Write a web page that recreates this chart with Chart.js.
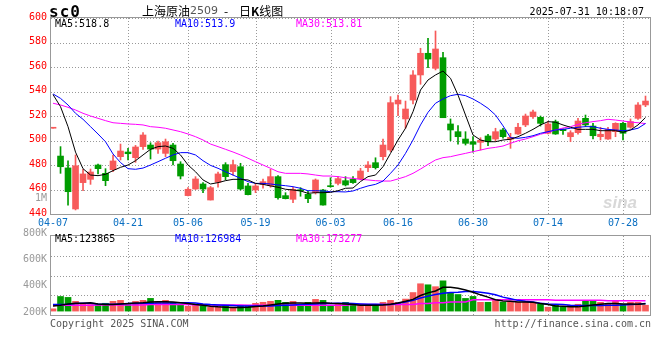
<!DOCTYPE html>
<html lang="zh-CN">
<head>
    <meta charset="UTF-8">
    <title>上海原油2509 日K线图</title>
    <!-- Chart.js -->
    <script src="https://cdn.jsdelivr.net/npm/chart.js@4.4.1/dist/chart.umd.min.js"></script>
    <style>
        body { margin: 0; background: #fff; }
        #wrap { position: relative; width: 660px; height: 360px; overflow: hidden;
                font-family: "DejaVu Sans Mono", monospace; font-size: 10px; }
        #kChart { position: absolute; left: 0; top: 0; }
        #vChart { position: absolute; left: 0; top: 226px; }
        .t { position: absolute; white-space: nowrap; line-height: 12px; }
        .cn { font-family: "Noto Sans CJK SC"; font-size: 12px; line-height: 16px; top: 3px; }
    </style>
</head>
<body>
<div id="wrap">
    <canvas id="kChart" width="660" height="232"></canvas>
    <canvas id="vChart" width="660" height="100"></canvas>

    <div class="t" style="left:49px;top:4px;font-size:16px;line-height:16px;font-weight:bold;letter-spacing:1px;">sc0</div>
    <div class="t cn" style="left:142px;">上海原油</div>
    <div class="t" style="left:190px;top:5px;font-family:'DejaVu Sans';font-size:11px;color:#555;">2509</div>
    <div class="t cn" style="left:224px;">-</div>
    <div class="t cn" style="left:239px;">日<b>K</b>线图</div>
    <div class="t" style="right:16px;top:6px;">2025-07-31 10:18:07</div>

    <div class="t" id="kMa5" style="left:55px;top:18px;color:#000;"></div>
    <div class="t" id="kMa10" style="left:175px;top:18px;color:#0000ff;"></div>
    <div class="t" id="kMa30" style="left:296px;top:18px;color:#ff00ff;"></div>
    <div class="t" style="right:613px;top:192px;color:#999;">1M</div>
    <div class="t" style="left:603px;top:194px;font-family:'Liberation Sans';font-size:17px;line-height:18px;font-weight:bold;font-style:italic;color:#d8d8d8;">sina</div>

    <div class="t" id="vMa5" style="left:55px;top:233px;color:#000;"></div>
    <div class="t" id="vMa10" style="left:175px;top:233px;color:#0000ff;"></div>
    <div class="t" id="vMa30" style="left:296px;top:233px;color:#ff00ff;"></div>

    <div class="t" style="left:50px;top:318px;color:#555;">Copyright 2025 SINA.COM</div>
    <div class="t" style="right:9px;top:318px;color:#555;">http://finance.sina.com.cn</div>
</div>

<script>
// trading days shown on the chart
const days = [
    '04-07','04-08','04-09','04-10','04-11','04-14','04-15','04-16','04-17','04-18',
    '04-21','04-22','04-23','04-24','04-25','04-28','04-29','04-30',
    '05-06','05-07','05-08','05-09','05-12','05-13','05-14','05-15','05-16',
    '05-19','05-20','05-21','05-22','05-23','05-26','05-27','05-28','05-29','05-30',
    '06-03','06-04','06-05','06-06','06-09','06-10','06-11','06-12','06-13',
    '06-16','06-17','06-18','06-19','06-20','06-23','06-24','06-25','06-26','06-27','06-30',
    '07-01','07-02','07-03','07-04','07-07','07-08','07-09','07-10','07-11',
    '07-14','07-15','07-16','07-17','07-18','07-21','07-22','07-23','07-24','07-25',
    '07-28','07-29','07-30','07-31'
];
const tickDays = ['04-07','04-21','05-06','05-19','06-03','06-16','06-30','07-14','07-28'];

// daily prices
const open = [
    510, 487.3, 477.6, 444.1, 465.6, 468.3, 480, 473.2, 476.2, 486.8,
    490.6, 486, 495, 496.3, 493, 489.5, 496.3, 480.8, 455, 460.4,
    464.5, 451.4, 465.9, 480.3, 474.6, 478.6, 462.9, 459.6, 464.2, 463.1,
    470.5, 455, 452, 459.8, 456.1, 457.4, 459.6, 462.9, 465, 467.2,
    468.3, 468.6, 477.8, 481.9, 486.8, 492.3, 529.8, 517.6, 533, 553.5,
    571.2, 558.9, 567.6, 513.5, 507.2, 501.2, 499, 498.5, 503.7, 501.2,
    508.6, 501, 505.3, 512.7, 519.4, 518.9, 505.9, 515.4, 509.2, 503.1,
    506.4, 518.1, 511.8, 503.1, 501.2, 507.2, 514, 510.8, 518.1, 529
];
const high = [
    510, 495, 483.5, 488.2, 476.5, 476.7, 480.8, 477, 488.2, 497.1,
    493.6, 496, 506.4, 498.2, 499.5, 501.2, 497.7, 482.7, 461.5, 470.5,
    465.6, 462.5, 474.3, 481.9, 484.1, 481.4, 465, 465, 468.6, 476.5,
    471.3, 457.4, 461.8, 461.5, 458.8, 468.6, 460.2, 469.6, 470.5, 470.5,
    470.5, 477.3, 482.7, 485.9, 501.2, 535.8, 537.1, 532.2, 557, 575.3,
    583.4, 589.4, 572, 517.6, 512.1, 507.2, 503.1, 502.3, 505.1, 510,
    510, 505.9, 514, 521.6, 524.9, 520, 515.4, 516.7, 509.5, 508,
    518.1, 520.8, 514, 510.8, 510.8, 514.5, 514.9, 517.6, 530.9, 536.3
];
const low = [
    510, 473.2, 447.3, 443.3, 459, 464.2, 472.7, 463.1, 474.5, 484.1,
    484.1, 482.2, 492.8, 484.9, 489.5, 486.8, 480, 468.6, 454.7, 460,
    457.4, 451.4, 462, 467.8, 471.8, 459.6, 455.5, 457.4, 461, 461.8,
    452.2, 452.3, 449.3, 454.5, 449.3, 456.3, 447.3, 461.8, 463.7, 462.9,
    465, 467.8, 474.5, 476.7, 484.1, 490.9, 520.3, 510, 529.8, 545.9,
    559.4, 557.6, 518.6, 499.8, 497.1, 496.3, 490.4, 492.2, 495.8, 499.6,
    502, 493.6, 505, 511.3, 518.1, 511.8, 505.3, 505, 505, 499,
    505.1, 511.3, 501.2, 500.4, 500.8, 503.1, 500.4, 510, 517.3, 527.6
];
const close = [
    510, 478.6, 458.2, 479.4, 472.7, 474.3, 477, 467.2, 483.3, 491.4,
    489.2, 494.7, 504.5, 493, 498.2, 499, 483.5, 471, 460.2, 468.6,
    460.4, 461.5, 472.7, 470.5, 480.3, 460.4, 455.8, 462.9, 466.4, 470.5,
    453.3, 452.5, 460.2, 459, 452.5, 467.8, 447.3, 462.3, 468.9, 463.7,
    465.6, 475.1, 480, 477.8, 496.3, 530.9, 533, 525.7, 553.5, 571.2,
    566.5, 574.7, 518.6, 508.6, 503.1, 497.7, 496.9, 500.2, 499, 507.2,
    503.1, 502.6, 510.8, 520, 523.3, 514, 513.5, 505.3, 508, 506.4,
    515.9, 512.7, 503.9, 505.1, 509.1, 514, 505.9, 515.4, 529, 532.2
];

// moving averages of the price
const ma5 = [
    537.5, 527.6, 511.3, 490.5, 477, 471.8, 471.3, 472.4, 475.4, 478.1,
    480, 483.5, 488.2, 492.8, 495, 495.5, 493.6, 488.2, 480, 474.5,
    467.8, 464.5, 465.6, 467.2, 468.3, 468.3, 467.8, 465, 464.2, 462.9,
    461.8, 460.2, 459.6, 458.8, 456.9, 457.4, 457.4, 457.7, 459, 461,
    461.2, 466.5, 470.5, 471.8, 478.6, 489.5, 500.4, 510, 523.5, 541.2,
    549.4, 553.5, 556.7, 550.8, 537.1, 520.8, 504.5, 500.4, 499, 499,
    500.4, 501, 503.1, 505.9, 509.1, 512.7, 515.4, 514.9, 512.7, 510.8,
    509.1, 509.1, 509.1, 508, 508, 508, 506.7, 508.6, 512.7, 518.8
];
const ma10 = [
    538, 534.4, 529, 522.2, 517.3, 511.3, 505.3, 499, 489, 482,
    477, 476.5, 477.5, 480, 482.7, 485.5, 488.2, 490.1, 490.1, 488.2,
    483.5, 479.7, 477.3, 474.5, 471.8, 469.1, 466.4, 465, 465, 464.5,
    463.7, 463.1, 462.3, 461, 459, 459, 458.8, 458.2, 458.2, 458,
    458.8, 461, 462.9, 464.2, 466.9, 473.2, 480, 489.5, 500.4, 512.7,
    523, 530.4, 533.9, 536.6, 537.7, 536.6, 533.9, 530.4, 526.3, 520.8,
    512, 502.3, 501.8, 502.6, 503.9, 505.9, 507.2, 508.6, 509.1, 510,
    510.8, 511.3, 511.3, 510, 509.1, 508.6, 508, 508.6, 510, 513.9
];
const ma30 = [
    530.4, 529, 527.1, 524.9, 522.2, 520, 518.1, 516.2, 514.5, 514,
    513.5, 513.2, 512.7, 511.3, 510.8, 510, 508.6, 507.2, 505.3, 503.1,
    500.4, 497.1, 495, 492.8, 490.6, 488.2, 485.5, 482.7, 480, 477.3,
    474.5, 473.2, 473.2, 473.2, 472.7, 471.8, 471, 471, 470.5, 469.6,
    469.1, 468.3, 467.8, 467.2, 466.9, 466.9, 468.6, 470.5, 473.2, 476.7,
    480.5, 484.1, 486, 486.8, 488.2, 489.5, 490.9, 492.2, 493.6, 494.4,
    495.5, 497.7, 499.8, 501.2, 503.1, 505.1, 506.7, 508.6, 510.2, 511.3,
    513.2, 514.5, 515.4, 516.2, 517.3, 516.7, 515.9, 515.1, 514.5, 513.81
];

// volume and its moving averages
const volume = [
    38600, 247200, 231500, 164800, 116200, 110400, 109700, 132300, 165600, 181200,
    110900, 164300, 182100, 214800, 165200, 181900, 148300, 110600, 82100, 115900,
    115200, 66400, 82800, 99300, 65700, 98600, 99500, 131800, 148900, 165300,
    181700, 148100, 164600, 115300, 148700, 198400, 181300, 82600, 115700, 148200,
    110300, 109800, 110600, 110100, 148800, 181400, 148500, 203600, 313900, 462400,
    445100, 412800, 511700, 313200, 280600, 214300, 247900, 148200, 148900, 181600,
    148400, 165300, 148700, 148100, 148600, 115400, 66200, 99100, 71800, 98700,
    115600, 165200, 164700, 148300, 132400, 165100, 110200, 148600, 148400, 99200
];
const volMa5 = [
    88000, 99000, 121000, 132000, 132000, 143000, 121000, 110000, 110000, 121000,
    126500, 137500, 143000, 154000, 159500, 159500, 154000, 143000, 126500, 110000,
    99000, 82500, 71500, 66000, 60500, 60500, 66000, 77000, 88000, 104500,
    121000, 132000, 137500, 137500, 132000, 137500, 143000, 132000, 126500, 121000,
    110000, 99000, 99000, 99000, 104500, 115500, 137500, 165000, 198000, 264000,
    308000, 341000, 401500, 401500, 385000, 357500, 319000, 275000, 236500, 192500,
    170500, 165000, 154000, 154000, 148500, 126500, 110000, 88000, 82500, 71500,
    71500, 88000, 104500, 115500, 126500, 126500, 121000, 121000, 115500, 123865
];
const volMa10 = [
    110000, 110000, 115500, 126500, 132000, 132000, 121000, 115500, 115500, 121000,
    126500, 126500, 132000, 132000, 137500, 137500, 137500, 143000, 143000, 137500,
    121000, 110000, 104500, 99000, 93500, 88000, 88000, 88000, 88000, 88000,
    93500, 99000, 104500, 110000, 115500, 121000, 126500, 126500, 132000, 132000,
    126500, 121000, 115500, 115500, 110000, 110000, 132000, 154000, 181500, 220000,
    253000, 280500, 302500, 313500, 319000, 330000, 330000, 319000, 302500, 275000,
    236500, 209000, 181500, 165000, 154000, 132000, 121000, 115500, 110000, 99000,
    93500, 93500, 93500, 93500, 99000, 99000, 104500, 110000, 115500, 126984
];
const volMa30 = [
    93500, 99000, 99000, 99000, 99000, 99000, 104500, 104500, 104500, 104500,
    104500, 104500, 104500, 110000, 110000, 110000, 110000, 110000, 110000, 104500,
    104500, 104500, 104500, 104500, 104500, 104500, 99000, 99000, 99000, 99000,
    99000, 99000, 99000, 99000, 99000, 99000, 99000, 99000, 99000, 99000,
    110000, 110000, 110000, 110000, 110000, 110000, 110000, 110000, 110000, 126500,
    126500, 143000, 143000, 154000, 154000, 154000, 192500, 192500, 192500, 192500,
    192500, 192500, 192500, 192500, 192500, 192500, 192500, 181500, 181500, 181500,
    181500, 181500, 181500, 181500, 176000, 176000, 176000, 176000, 176000, 173277
];

const UP = '#f75a5a';
const DOWN = '#009c00';
const GRID = '#999';
const MONO = 'DejaVu Sans Mono';

const tickIdx = tickDays.map(function(d) { return days.indexOf(d); });
const candleColors = open.map(function(o, i) { return close[i] >= o ? UP : DOWN; });
const pts = function(arr) { return arr.map(function(v, i) { return { x: i, y: v }; }); };

// legends
const last = days.length - 1;
document.getElementById('kMa5').textContent = 'MA5:' + ma5[last].toFixed(1);
document.getElementById('kMa10').textContent = 'MA10:' + ma10[last].toFixed(1);
document.getElementById('kMa30').textContent = 'MA30:' + ma30[last].toFixed(2);
document.getElementById('vMa5').textContent = 'MA5:' + volMa5[last];
document.getElementById('vMa10').textContent = 'MA10:' + volMa10[last];
document.getElementById('vMa30').textContent = 'MA30:' + volMa30[last];

// dotted grid from the scale ticks, plus a solid frame round the plot
const frame = {
    id: 'frame',
    beforeDatasetsDraw: function(chart, args, opts) {
        const ctx = chart.ctx, a = chart.chartArea;
        const xs = chart.scales.x, ys = chart.scales[opts.gridAxis];
        ctx.save();
        ctx.strokeStyle = GRID;
        ctx.lineWidth = 1;
        ctx.setLineDash([1, 2]);
        ctx.beginPath();
        xs.ticks.forEach(function(t, i) {
            if (i === 0) return;
            const px = Math.round(xs.getPixelForValue(t.value)) + 0.5;
            ctx.moveTo(px, a.top);
            ctx.lineTo(px, a.bottom);
        });
        ys.ticks.forEach(function(t) {
            const py = Math.round(ys.getPixelForValue(t.value)) + 0.5;
            ctx.moveTo(a.left, py);
            ctx.lineTo(a.right, py);
        });
        ctx.stroke();
        ctx.restore();
    },
    afterDraw: function(chart) {
        const ctx = chart.ctx, a = chart.chartArea;
        ctx.save();
        ctx.strokeStyle = '#999';
        ctx.lineWidth = 1;
        ctx.strokeRect(Math.round(a.left) - 0.5, Math.round(a.top) - 0.5,
                       Math.round(a.right - a.left) + 1, Math.round(a.bottom - a.top) + 1);
        ctx.restore();
    }
};

const noGrid = { display: false, drawTicks: false };

// shared x axis settings
function xAxis(showLabels, height) {
    return {
        type: 'linear',
        min: -0.27,
        max: 79.6,
        offset: false,
        afterBuildTicks: function(scale) {
            scale.ticks = tickIdx.map(function(v) { return { value: v }; });
        },
        afterFit: function(scale) { scale.height = height; },
        grid: noGrid,
        border: { display: false },
        ticks: {
            display: showLabels,
            autoSkip: false,
            maxRotation: 0,
            padding: 3,
            color: '#0a6fc2',
            font: { family: MONO, size: 10 },
            callback: function(v, i) { return tickDays[i]; }
        }
    };
}

function lineSet(data, color, yAxis, width) {
    return {
        type: 'line', data: pts(data), yAxisID: yAxis,
        borderColor: color, borderWidth: width, pointRadius: 0, tension: 0, order: 1
    };
}

// candlestick chart
new Chart(document.getElementById('kChart'), {
    type: 'bar',
    data: {
        datasets: [
            {
                data: low.map(function(l, i) { return { x: i, y: [l, high[i]] }; }),
                backgroundColor: candleColors, barThickness: 1, grouped: false, order: 3
            },
            {
                data: open.map(function(o, i) { return { x: i, y: [o, close[i]] }; }),
                backgroundColor: candleColors, barThickness: 6, grouped: false,
                minBarLength: 1, order: 2
            },
            lineSet(ma5, '#000000', 'y', 1),
            lineSet(ma10, '#0000ff', 'y', 1),
            lineSet(ma30, '#ff00ff', 'y', 1)
        ]
    },
    options: {
        responsive: false,
        animation: false,
        devicePixelRatio: 1,
        layout: { padding: { left: 0, right: 10, top: 18, bottom: 0 } },
        plugins: {
            legend: { display: false },
            tooltip: { enabled: false },
            frame: { gridAxis: 'y' }
        },
        scales: {
            x: xAxis(true, 18),
            y: {
                min: 440,
                max: 600,
                afterFit: function(scale) { scale.width = 51; },
                grid: noGrid,
                border: { display: false },
                ticks: {
                    stepSize: 20,
                    padding: 4,
                    labelOffset: -1,
                    color: '#ff0000',
                    font: { family: MONO, size: 10 }
                }
            }
        }
    },
    plugins: [frame]
});

// volume chart
new Chart(document.getElementById('vChart'), {
    type: 'bar',
    data: {
        datasets: [
            {
                data: pts(volume), yAxisID: 'yv',
                backgroundColor: candleColors, barThickness: 6, grouped: false, order: 2
            },
            lineSet(volMa5, '#000000', 'yv', 1.5),
            lineSet(volMa10, '#0000ff', 'yv', 1.5),
            lineSet(volMa30, '#ff00ff', 'yv', 1.5)
        ]
    },
    options: {
        responsive: false,
        animation: false,
        devicePixelRatio: 1,
        layout: { padding: { left: 0, right: 10, top: 8, bottom: 0 } },
        plugins: {
            legend: { display: false },
            tooltip: { enabled: false },
            frame: { gridAxis: 'yv' }
        },
        scales: {
            x: xAxis(false, 11),
            yl: {
                position: 'left',
                min: 200000,
                max: 800000,
                afterFit: function(scale) { scale.width = 51; },
                grid: noGrid,
                border: { display: false },
                ticks: {
                    stepSize: 200000,
                    padding: 4,
                    labelOffset: -3,
                    color: '#999',
                    font: { family: MONO, size: 10 },
                    callback: function(v) { return (v / 1000) + 'K'; }
                }
            },
            yv: {
                position: 'left',
                min: -66000,
                max: 1270000,
                afterBuildTicks: function(scale) {
                    const step = (scale.max - scale.min) / 4;
                    scale.ticks = [1, 2, 3].map(function(k) { return { value: scale.min + k * step }; });
                },
                afterFit: function(scale) { scale.width = 0; },
                grid: noGrid,
                border: { display: false },
                ticks: { display: false }
            }
        }
    },
    plugins: [frame]
});
</script>
</body>
</html>
